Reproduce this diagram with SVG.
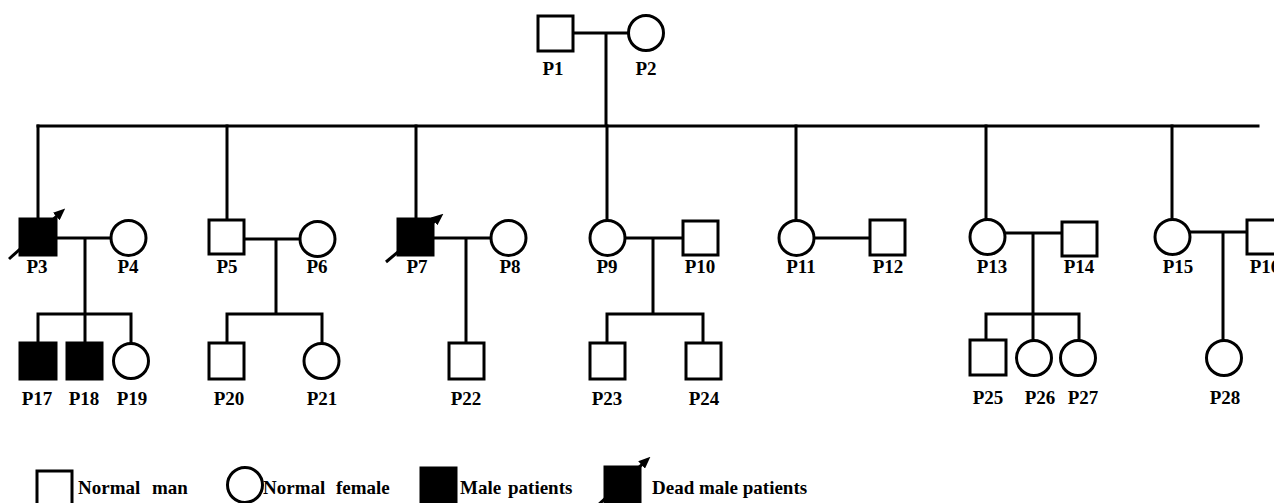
<svg xmlns="http://www.w3.org/2000/svg" width="1274" height="503" viewBox="0 0 1274 503">
<style>
.ln{stroke:#000;stroke-width:3;fill:none;stroke-linecap:square}
.m{fill:#fff;stroke:#000;stroke-width:3}
.p{fill:#000;stroke:#000;stroke-width:3}
.f{fill:#fff;stroke:#000;stroke-width:3}
.d{stroke:#000;stroke-width:3;fill:none;marker-end:url(#ah)}
text{font-family:"Liberation Serif","Times New Roman",serif;font-weight:bold;font-size:19px;fill:#000}
.lb{text-anchor:middle}
</style>
<defs>
<marker id="ah" viewBox="0 0 12 10" refX="3" refY="5" markerWidth="12" markerHeight="10" markerUnits="userSpaceOnUse" orient="auto">
<path d="M0,0 L12,5 L0,10 z" fill="#000"/>
</marker>
</defs>
<g id="connectors">
<path class="ln" d="M573,33 H629 M606,33 V126 M38,126 H1258"/>
<path class="ln" d="M38,126 V219 M227,126 V220 M416,126 V219 M607,126 V220 M796,126 V220 M986,126 V219 M1172,126 V219"/>
<path class="ln" d="M56,238 H111 M85,238 V314 M38,314 H131 M38,314 V343 M85,314 V343 M131,314 V343"/>
<path class="ln" d="M244,239 H300 M276,239 V314 M227,314 H322 M227,314 V343 M322,314 V343"/>
<path class="ln" d="M433,238 H491 M466,238 V343"/>
<path class="ln" d="M625,238 H683 M653,238 V314 M607,314 H703 M607,314 V343 M703,314 V343"/>
<path class="ln" d="M814,238 H870"/>
<path class="ln" d="M1005,233 H1062 M1033,233 V314 M986,314 H1079 M986,314 V340 M1033,314 V340 M1079,314 V340"/>
<path class="ln" d="M1190,232 H1247 M1223,232 V340"/>
</g>
<g id="P1"><rect class="m" x="538" y="16" width="35" height="35"/><text class="lb" x="553" y="75">P1</text></g>
<g id="P2"><circle class="f" cx="646" cy="33" r="17.5"/><text class="lb" x="646" y="75">P2</text></g>
<g id="P3"><rect class="p" x="20" y="219" width="36" height="36"/><line class="d" x1="9" y1="259" x2="58.5" y2="214.5"/><text class="lb" x="37" y="273">P3</text></g>
<g id="P4"><circle class="f" cx="128.5" cy="238" r="17.5"/><text class="lb" x="128" y="273">P4</text></g>
<g id="P5"><rect class="m" x="209" y="220" width="35" height="34"/><text class="lb" x="227" y="273">P5</text></g>
<g id="P6"><circle class="f" cx="317.5" cy="239" r="17.5"/><text class="lb" x="317" y="273">P6</text></g>
<g id="P7"><rect class="p" x="398" y="219" width="35" height="36"/><line class="d" x1="386" y1="262" x2="436.5" y2="219.5"/><text class="lb" x="417" y="273">P7</text></g>
<g id="P8"><circle class="f" cx="508.5" cy="238" r="17.5"/><text class="lb" x="510" y="273">P8</text></g>
<g id="P9"><circle class="f" cx="607.5" cy="238" r="17.5"/><text class="lb" x="607" y="273">P9</text></g>
<g id="P10"><rect class="m" x="683" y="221" width="35" height="34"/><text class="lb" x="700" y="273">P10</text></g>
<g id="P11"><circle class="f" cx="796.5" cy="238" r="17.5"/><text class="lb" x="801" y="273">P11</text></g>
<g id="P12"><rect class="m" x="870" y="220" width="35" height="35"/><text class="lb" x="888" y="273">P12</text></g>
<g id="P13"><circle class="f" cx="987.5" cy="237" r="17.5"/><text class="lb" x="992" y="273">P13</text></g>
<g id="P14"><rect class="m" x="1062" y="222" width="35" height="34"/><text class="lb" x="1079" y="273">P14</text></g>
<g id="P15"><circle class="f" cx="1172.5" cy="237" r="17.5"/><text class="lb" x="1178" y="273">P15</text></g>
<g id="P16"><rect class="m" x="1247" y="220" width="35" height="34"/><text class="lb" x="1265" y="273">P16</text></g>
<g id="P17"><rect class="p" x="20" y="343" width="36" height="36"/><text class="lb" x="37" y="405">P17</text></g>
<g id="P18"><rect class="p" x="67" y="343" width="35" height="36"/><text class="lb" x="84" y="405">P18</text></g>
<g id="P19"><circle class="f" cx="131" cy="361" r="17.5"/><text class="lb" x="132" y="405">P19</text></g>
<g id="P20"><rect class="m" x="209" y="343" width="35" height="36"/><text class="lb" x="229" y="405">P20</text></g>
<g id="P21"><circle class="f" cx="321.5" cy="361" r="17.5"/><text class="lb" x="322" y="405">P21</text></g>
<g id="P22"><rect class="m" x="449" y="343" width="35" height="36"/><text class="lb" x="466" y="405">P22</text></g>
<g id="P23"><rect class="m" x="590" y="343" width="35" height="36"/><text class="lb" x="607" y="405">P23</text></g>
<g id="P24"><rect class="m" x="686" y="343" width="35" height="36"/><text class="lb" x="704" y="405">P24</text></g>
<g id="P25"><rect class="m" x="970" y="340" width="36" height="35"/><text class="lb" x="988" y="404">P25</text></g>
<g id="P26"><circle class="f" cx="1034" cy="358" r="17.5"/><text class="lb" x="1040" y="404">P26</text></g>
<g id="P27"><circle class="f" cx="1078" cy="358" r="17.5"/><text class="lb" x="1083" y="404">P27</text></g>
<g id="P28"><circle class="f" cx="1224" cy="358" r="17.5"/><text class="lb" x="1225" y="404">P28</text></g>
<g id="legend">
<rect class="m" x="37" y="471" width="35" height="35"/>
<text x="78" y="494">Normal<tspan x="152">man</tspan></text>
<circle class="f" cx="245" cy="485" r="17.5"/>
<text x="263" y="494">Normal<tspan x="336">female</tspan></text>
<rect class="p" x="421" y="468" width="35" height="36"/>
<text x="460" y="494">Male<tspan x="508">patients</tspan></text>
<rect class="p" x="605" y="467" width="35" height="37"/>
<line class="d" x1="596" y1="507" x2="643.8" y2="462.9"/>
<text x="652" y="494">Dead male patients</text>
</g>
</svg>
